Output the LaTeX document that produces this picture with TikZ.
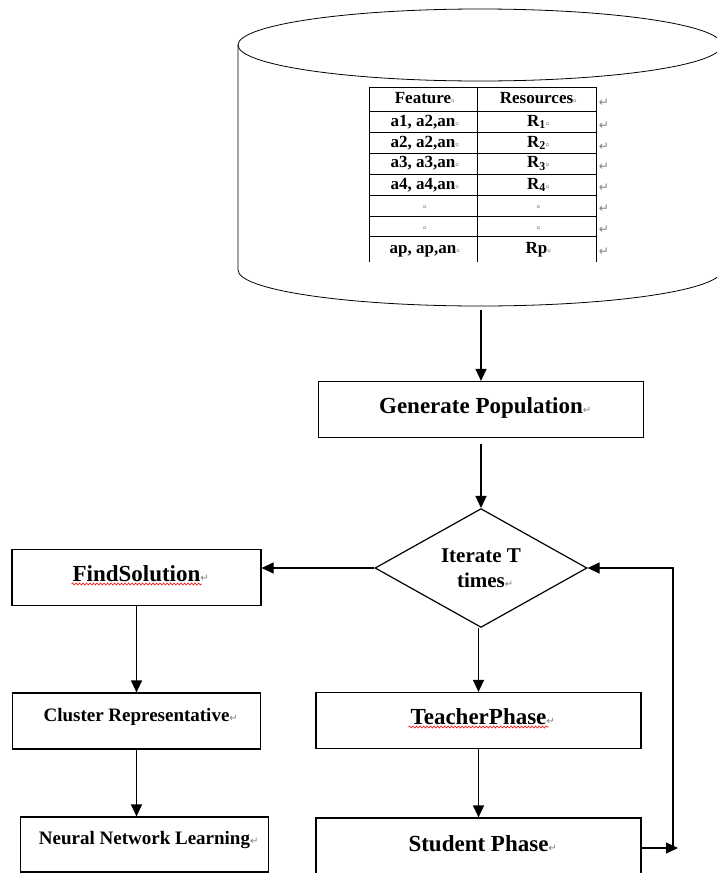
\documentclass[tikz,border=0pt]{standalone}
\usepackage{fontspec}
\setmainfont{Liberation Serif}
\newfontfamily\markfont{DejaVu Sans}
\usetikzlibrary{shapes.geometric,arrows.meta,decorations.pathmorphing}

\newcommand{\pmark}{\rlap{{\markfont\mdseries\fontsize{10}{10}\selectfont\color{gray}↵}}}
\newcommand{\cellmark}{\rlap{{\fontsize{7}{7}\selectfont\color{gray}¤}}}

\tikzset{
  box/.style={draw, line width=1.2pt, minimum width=325pt, minimum height=56pt, inner sep=0pt,
    font=\fontsize{23}{26}\selectfont\bfseries, text height=15pt, text depth=8pt},
  smallbox/.style={box, minimum width=248pt, font=\fontsize{19}{22}\selectfont\bfseries,
    text height=12.5pt, text depth=12pt},
  cell/.style={inner sep=0pt, font=\fontsize{17}{19}\selectfont\bfseries, text height=11.5pt, text depth=3.5pt},
  retm/.style={inner sep=0pt, text=gray, font=\markfont\fontsize{12}{12}\selectfont},
  flow/.style={->, line width=1.2pt},
  wavy/.style={red, line width=0.6pt, decorate, decoration={snake, amplitude=1pt, segment length=3.5pt}}
}

\begin{document}
\begin{tikzpicture}[x=1pt, y=-1pt, >={Triangle[length=12pt,width=11pt]}]
\clip (0,0) rectangle (717,873);

% database cylinder
\draw[line width=0.8pt] (480,45) ellipse (242pt and 36pt);
\draw[line width=0.8pt] (238,45) -- (238,270) arc[start angle=180, end angle=360, x radius=242pt, y radius=36pt];
\coordinate (dbbot) at (481,310);

% table
\draw[line width=1pt] (369,87) -- (596,87);
\draw[line width=1pt] (369,111.7) -- (596,111.7);
\draw[line width=1pt] (369,132.7) -- (596,132.7);
\draw[line width=1pt] (369,153.3) -- (596,153.3);
\draw[line width=1pt] (369,174.3) -- (596,174.3);
\draw[line width=1pt] (369,195.7) -- (596,195.7);
\draw[line width=1pt] (369,216) -- (596,216);
\draw[line width=1pt] (369,236.7) -- (596,236.7);
\draw[line width=1pt] (369,87) -- (369,262);
\draw[line width=1pt] (477,87) -- (477,262);
\draw[line width=1pt] (596,87) -- (596,262);

\node[cell] (f0) at (423,99.5) {Feature\cellmark};
\node[cell] (r0) at (536.5,99.5) {Resources\cellmark};
\node[cell] (f1) at (423,122.2) {a1, a2,an\cellmark};
\node[cell] (r1) at (536.5,122.2) {R\textsubscript{1}\cellmark};
\node[cell] (f2) at (423,143) {a2, a2,an\cellmark};
\node[cell] (r2) at (536.5,143) {R\textsubscript{2}\cellmark};
\node[cell] (f3) at (423,163.8) {a3, a3,an\cellmark};
\node[cell] (r3) at (536.5,163.8) {R\textsubscript{3}\cellmark};
\node[cell] (f4) at (423,185) {a4, a4,an\cellmark};
\node[cell] (r4) at (536.5,185) {R\textsubscript{4}\cellmark};
\node[cell] (f5) at (423,205.9) {\cellmark};
\node[cell] (r5) at (536.5,205.9) {\cellmark};
\node[cell] (f6) at (423,226.4) {\cellmark};
\node[cell] (r6) at (536.5,226.4) {\cellmark};
\node[cell] (f7) at (423,249.2) {ap, ap,an\cellmark};
\node[cell] (r7) at (536.5,249.2) {Rp\cellmark};

\node[retm] (m0) at (604,103) {↵};
\node[retm] (m1) at (604,125.5) {↵};
\node[retm] (m2) at (604,146.5) {↵};
\node[retm] (m3) at (604,167) {↵};
\node[retm] (m4) at (604,188) {↵};
\node[retm] (m5) at (604,209) {↵};
\node[retm] (m6) at (604,230) {↵};
\node[retm] (m7) at (604,252) {↵};

% flow chart
\node[box] (gen) at (481,409.5) {Generate Population\pmark};
\node[diamond, draw, line width=1.2pt, minimum width=212pt, minimum height=111pt, inner sep=0pt,
  align=center, font=\fontsize{21}{25}\selectfont\bfseries] (iter) at (481,568) {Iterate T\\times\pmark};
\node[smallbox, minimum width=249pt, font=\fontsize{23}{26}\selectfont\bfseries, text height=15pt, text depth=8pt]
  (find) at (136.5,577.5) {FindSolution\pmark};
\node[smallbox] (clus) at (136.5,721) {Cluster Representative\pmark};
\node[smallbox, minimum height=55pt] (nnl) at (144.5,844.5) {Neural Network Learning\pmark};
\node[box] (teach) at (478.5,720.5) {TeacherPhase\pmark};
\node[box, minimum height=66pt, text depth=14pt] (stud) at (478.5,851) {Student Phase\pmark};
\coordinate (fb) at (678,848);
\coordinate (loop) at (673,848);

\draw[wavy] ([xshift=-65pt,yshift=-3pt]find.base) -- ([xshift=65pt,yshift=-3pt]find.base);
\draw[wavy] ([xshift=-70pt,yshift=-3pt]teach.base) -- ([xshift=70pt,yshift=-3pt]teach.base);

\draw[flow] (dbbot) -- (gen.north);
\draw[flow, shorten <=6pt] (gen.south) -- (iter.north);
\draw[flow] (iter.west) -- (iter.west -| find.east);
\draw[flow] (find.south) -- (clus.north);
\draw[flow] (clus.south) -- (clus.south |- nnl.north);
\draw[flow] (teach.north |- iter.south) -- (teach.north);
\draw[flow] (teach.south) -- (stud.north);
\draw[flow] (stud.east |- fb) -- (fb);
\draw[flow] (loop) |- (iter.east);
\end{tikzpicture}
\end{document}
